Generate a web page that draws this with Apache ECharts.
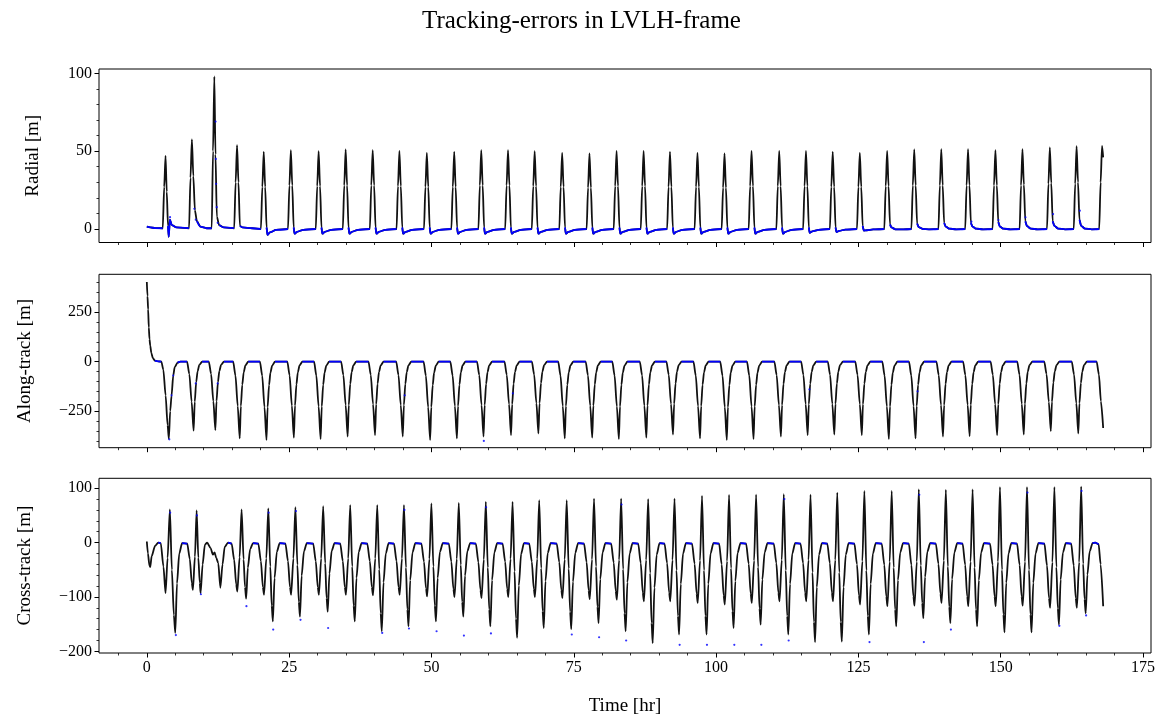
<!DOCTYPE html>
<html>
<head>
<meta charset="utf-8">
<script src="https://cdn.jsdelivr.net/npm/echarts@6/dist/echarts.min.js"></script>
<style>html,body{margin:0;padding:0;background:#fff}#c{width:1163px;height:717px}</style>
</head>
<body>
<div id="c"></div>
<script>
// ---------- tick values ----------
const xMajor = [0,25,50,75,100,125,150,175];
const xMinor = [-5,5,10,15,20,30,35,40,45,55,60,65,70,80,85,90,95,105,110,115,120,130,135,140,145,155,160,165,170];
const radialMajor = [0,50,100];
const radialMinor = [10,20,30,40,60,70,80,90];
const alongMajor = [-250,0,250];
const alongMinor = [-400,-350,-300,-200,-150,-100,-50,50,100,150,200,300,350,400];
const crossMajor = [-200,-100,0,100];
const crossMinor = [-180,-160,-140,-120,-80,-60,-40,-20,20,40,60,80];

// ---------- data: [time (hr), error (m)] ----------
const radialData = [
[0,1.5],[0.6,1],[1.5,0.6],[2.8,0.5],[3.05,27],[3.29,47],[3.5,24],[3.72,2],[3.85,-5],[4.05,6],[4.4,2.5],[5.2,1],
[7.42,0.5],[7.67,33],[7.92,57.5],[8.17,34],[8.45,12],[8.8,5],[9.4,1.5],[10.5,0.5],
[11.4,0.5],[11.63,50],[11.86,98],[12.06,48],[12.3,8],[12.7,2.5],[13.5,1],
[15.35,0.5],[15.6,30],[15.85,53.8],[16.1,30],[16.35,2],[16.8,1],[18.5,0.5],
[20.04,0],[20.29,27],[20.54,49.6],[20.79,27],[21.04,1],[21.19,-3.8],[21.6,-2.2],[22.7,-0.6],
[24.8,0],[25.05,28],[25.3,50.6],[25.55,28],[25.8,1],[25.95,-3],[26.4,-1.8],[27.5,-0.5],
[29.68,0],[29.93,27.5],[30.18,50],[30.43,27.5],[30.68,1],[30.83,-3],[31.28,-1.8],[32.4,-0.5],
[34.43,0],[34.68,28],[34.93,51.1],[35.18,28],[35.43,1],[35.58,-3],[36.03,-1.8],[37.1,-0.5],
[39.18,0],[39.43,28],[39.68,50.6],[39.93,28],[40.18,1],[40.33,-3],[40.78,-1.8],[41.9,-0.5],
[43.87,0],[44.12,27.5],[44.37,50.2],[44.62,27.5],[44.87,1],[45.02,-3],[45.47,-1.8],[46.6,-0.5],
[48.69,0],[48.94,27],[49.19,48.9],[49.44,27],[49.69,1],[49.84,-3],[50.29,-1.8],[51.4,-0.5],
[53.5,0],[53.75,27],[54.0,49.6],[54.25,27],[54.5,1],[54.65,-3],[55.1,-1.8],[56.2,-0.5],
[58.25,0],[58.5,28],[58.75,50.6],[59.0,28],[59.25,1],[59.4,-3],[59.85,-1.8],[61.0,-0.5],
[62.95,0],[63.2,28],[63.45,50.6],[63.7,28],[63.95,1],[64.1,-3],[64.55,-1.8],[65.7,-0.5],
[67.63,0],[67.88,27.5],[68.13,50],[68.38,27.5],[68.63,1],[68.78,-3],[69.23,-1.8],[70.4,-0.5],
[72.46,0],[72.71,27],[72.96,48.9],[73.21,27],[73.46,1],[73.61,-3],[74.06,-1.8],[75.2,-0.5],
[77.26,0],[77.51,26.5],[77.76,48.5],[78.01,26.5],[78.26,1],[78.41,-3],[78.86,-1.8],[80.0,-0.5],
[82.02,0],[82.27,27.5],[82.52,50.2],[82.77,27.5],[83.02,1],[83.17,-3],[83.62,-1.8],[84.8,-0.5],
[86.77,0],[87.02,27.5],[87.27,50.2],[87.52,27.5],[87.77,1],[87.92,-3],[88.37,-1.8],[89.5,-0.5],
[91.4,0],[91.65,27],[91.9,49.6],[92.15,27],[92.4,1],[92.55,-3],[93.0,-1.8],[94.1,-0.5],
[96.23,0],[96.48,27],[96.73,48.9],[96.98,27],[97.23,1],[97.38,-3],[97.83,-1.8],[99.0,-0.5],
[100.98,0],[101.23,26.5],[101.48,48.5],[101.73,26.5],[101.98,1],[102.13,-3],[102.58,-1.8],[103.7,-0.5],
[105.73,0],[105.98,27.5],[106.23,50.2],[106.48,27.5],[106.73,1],[106.88,-3],[107.33,-1.8],[108.5,-0.5],
[110.59,0],[110.84,27.5],[111.09,50.2],[111.34,27.5],[111.59,1],[111.74,-3],[112.19,-1.8],[113.3,-0.5],
[115.29,0],[115.54,27.5],[115.79,50.2],[116.04,27.5],[116.29,1],[116.44,-2.5],[116.89,-1.5],[118.0,-0.5],
[119.99,0],[120.24,27],[120.49,49.6],[120.74,27],[120.99,1],[121.14,-2],[121.6,-1.2],[122.7,-0.4],
[124.75,0],[125.0,27],[125.25,48.9],[125.5,27],[125.75,2],[125.95,-1],[126.5,-0.8],[127.6,-0.3],
[129.55,0],[129.8,27.5],[130.05,50.2],[130.3,27.5],[130.55,3],[130.8,1],[131.5,-0.2],[132.6,-0.3],
[134.31,0],[134.56,28],[134.81,51.1],[135.06,28],[135.31,3.5],[135.6,1.2],[136.3,0],[137.4,-0.2],
[139.06,0],[139.31,28],[139.56,51.3],[139.81,28],[140.06,4],[140.35,1.5],[141.0,0.2],[142.2,-0.2],
[143.76,0],[144.01,28],[144.26,51.3],[144.51,28],[144.76,4],[145.05,1.5],[145.7,0.2],[146.9,-0.2],
[148.57,0],[148.82,28],[149.07,50.6],[149.32,28],[149.57,4.5],[149.86,1.5],[150.5,0.2],[151.7,-0.2],
[153.32,0],[153.57,28],[153.82,51.3],[154.07,28.5],[154.32,5],[154.62,1.8],[155.3,0.2],[156.5,-0.2],
[158.13,0],[158.38,29],[158.63,52.4],[158.88,29.5],[159.13,5],[159.43,2],[160.1,0.3],[161.3,-0.2],
[162.83,0],[163.08,29],[163.33,53.2],[163.58,30],[163.83,6],[164.13,2],[164.8,0.3],[166.0,-0.2],
[167.3,0],[167.55,30],[167.8,53.4],[168.0,46]
];
const radialDots = [[4.08,7.6],[8.35,13],[8.6,6],[12.08,69],[12.12,45],[12.18,29],[12.28,14],[12.45,4],
[144.85,4.7],[149.6,5.8],[154.35,7.5],[159.2,9.6],[163.9,11.8]];

const alongData = [
[0,401],[0.12,330],[0.23,263],[0.35,172],[0.47,113],[0.6,80],[0.8,43],[1.05,18],[1.4,5],[2.0,1],[2.55,0],
[2.9,-40],[3.3,-170],[3.65,-320],[3.87,-390],[4.1,-250],[4.35,-170],[4.64,-70],[4.9,-28],[5.4,-5],[5.9,0],
[7.07,0],[7.47,-63],[7.87,-202],[8.22,-348],[8.42,-202],[8.67,-104],[8.92,-49],[9.22,-17],[9.72,0],
[10.89,0],[11.29,-62],[11.69,-200],[12.04,-345],[12.24,-200],[12.49,-104],[12.74,-48],[13.04,-17],[13.54,0],
[15.17,0],[15.57,-70],[15.97,-224],[16.32,-387],[16.52,-224],[16.77,-116],[17.02,-54],[17.32,-19],[17.82,0],
[19.87,0],[20.27,-71],[20.67,-229],[21.02,-395],[21.22,-229],[21.47,-119],[21.72,-55],[22.02,-20],[22.52,0],
[24.68,0],[25.08,-69],[25.48,-222],[25.83,-383],[26.03,-222],[26.28,-115],[26.53,-54],[26.83,-19],[27.33,0],
[29.38,0],[29.78,-70],[30.18,-226],[30.53,-390],[30.73,-226],[30.98,-117],[31.23,-55],[31.53,-20],[32.03,0],
[34.13,0],[34.53,-68],[34.93,-219],[35.28,-378],[35.48,-219],[35.73,-113],[35.98,-53],[36.28,-19],[36.78,0],
[38.94,0],[39.34,-67],[39.74,-215],[40.09,-370],[40.29,-215],[40.54,-111],[40.79,-52],[41.09,-19],[41.59,0],
[43.81,0],[44.21,-68],[44.61,-219],[44.96,-378],[45.16,-219],[45.41,-113],[45.66,-53],[45.96,-19],[46.46,0],
[48.62,0],[49.02,-71],[49.42,-229],[49.77,-395],[49.97,-229],[50.22,-119],[50.47,-55],[50.77,-20],[51.27,0],
[53.32,0],[53.72,-70],[54.12,-224],[54.47,-387],[54.67,-224],[54.92,-116],[55.17,-54],[55.47,-19],[55.97,0],
[58.0,0],[58.4,-68],[58.8,-219],[59.15,-378],[59.35,-219],[59.6,-113],[59.85,-53],[60.15,-19],[60.65,0],
[62.83,0],[63.23,-67],[63.63,-215],[63.98,-370],[64.18,-215],[64.43,-111],[64.68,-52],[64.98,-19],[65.48,0],
[67.64,0],[68.04,-65],[68.44,-210],[68.79,-362],[68.99,-210],[69.24,-109],[69.49,-51],[69.79,-18],[70.29,0],
[72.27,0],[72.67,-70],[73.07,-224],[73.42,-387],[73.62,-224],[73.87,-116],[74.12,-54],[74.42,-19],[74.92,0],
[77.09,0],[77.49,-69],[77.89,-222],[78.24,-383],[78.44,-222],[78.69,-115],[78.94,-54],[79.24,-19],[79.74,0],
[81.77,0],[82.17,-70],[82.57,-226],[82.92,-390],[83.12,-226],[83.37,-117],[83.62,-55],[83.92,-20],[84.42,0],
[86.6,0],[87.0,-69],[87.4,-222],[87.75,-383],[87.95,-222],[88.2,-115],[88.45,-54],[88.75,-19],[89.25,0],
[91.28,0],[91.68,-66],[92.08,-213],[92.43,-367],[92.63,-213],[92.88,-110],[93.13,-51],[93.43,-18],[93.93,0],
[96.03,0],[96.43,-70],[96.83,-224],[97.18,-387],[97.38,-224],[97.63,-116],[97.88,-54],[98.18,-19],[98.68,0],
[100.73,0],[101.13,-71],[101.53,-229],[101.88,-395],[102.08,-229],[102.33,-119],[102.58,-55],[102.88,-20],[103.38,0],
[105.43,0],[105.83,-70],[106.23,-226],[106.58,-390],[106.78,-226],[107.03,-117],[107.28,-55],[107.58,-20],[108.08,0],
[110.24,0],[110.64,-68],[111.04,-219],[111.39,-378],[111.59,-219],[111.84,-113],[112.09,-53],[112.39,-19],[112.89,0],
[114.94,0],[115.34,-67],[115.74,-215],[116.09,-370],[116.29,-215],[116.54,-111],[116.79,-52],[117.09,-19],[117.59,0],
[119.62,0],[120.02,-66],[120.42,-213],[120.77,-367],[120.97,-213],[121.22,-110],[121.47,-51],[121.77,-18],[122.27,0],
[124.45,0],[124.85,-67],[125.25,-215],[125.6,-370],[125.8,-215],[126.05,-111],[126.3,-52],[126.6,-19],[127.1,0],
[129.2,0],[129.6,-70],[130.0,-226],[130.35,-390],[130.55,-226],[130.8,-117],[131.05,-55],[131.35,-20],[131.85,0],
[133.89,0],[134.29,-70],[134.69,-224],[135.04,-387],[135.24,-224],[135.49,-116],[135.74,-54],[136.04,-19],[136.54,0],
[138.71,0],[139.11,-68],[139.51,-219],[139.86,-378],[140.06,-219],[140.31,-113],[140.56,-53],[140.86,-19],[141.36,0],
[143.39,0],[143.79,-68],[144.19,-218],[144.54,-375],[144.74,-218],[144.99,-113],[145.24,-53],[145.54,-19],[146.04,0],
[148.22,0],[148.62,-67],[149.02,-215],[149.37,-370],[149.57,-215],[149.82,-111],[150.07,-52],[150.37,-19],[150.87,0],
[152.9,0],[153.3,-66],[153.7,-213],[154.05,-367],[154.25,-213],[154.5,-110],[154.75,-51],[155.05,-18],[155.55,0],
[157.65,0],[158.05,-63],[158.45,-203],[158.8,-350],[159.0,-203],[159.25,-105],[159.5,-49],[159.8,-18],[160.3,0],
[162.48,0],[162.88,-65],[163.28,-210],[163.63,-362],[163.83,-210],[164.08,-109],[164.33,-51],[164.63,-18],[165.13,0],
[166.85,0],[167.25,-65],[167.6,-200],[168.0,-335]
];
const alongDots = [[3.95,-392],[4.35,-170],[4.64,-70],[59.2,-400],[8.6,-110],[12.45,-110],[45.3,-170],[64.3,-160],[116.4,-140],[135.4,-150]];

const crossData = [
[0,2],[0.2,-20],[0.45,-42],[0.6,-45],[0.85,-25],[1.45,-6],[2.0,0],[2.45,-1],[2.92,-44],[3.29,-93],[3.65,-28],[4.05,61],[4.4,-50],[4.75,-133],[5.0,-166],[5.3,-75],[5.7,-20],[6.2,-1],
[7.1,-2],[7.55,-30],[7.9,-74],[8.1,-87],[8.45,-26],[8.75,59],[9.05,-28],[9.3,-74],[9.45,-93],[9.8,-40],[10.2,-4],[10.6,0],
[11.2,-10],[11.6,-22],[11.9,-18],[12.2,-28],[12.55,-38],[12.92,-83],[13.3,-40],[13.68,-8],[14.27,0],
[14.9,-2],[15.35,-32],[15.7,-77],[15.9,-90],[16.3,-27],[16.65,61],[17.0,-31],[17.25,-82],[17.45,-103],[17.75,-46],[18.15,-12],[18.65,-1],
[19.59,-2],[20.04,-34],[20.39,-82],[20.59,-96],[20.99,-29],[21.34,63],[21.69,-44],[21.94,-116],[22.14,-145],[22.44,-65],[22.84,-17],[23.34,-1],
[24.35,-2],[24.8,-34],[25.15,-82],[25.35,-96],[25.75,-29],[26.1,65],[26.45,-41],[26.7,-109],[26.9,-136],[27.2,-61],[27.6,-16],[28.1,-1],
[29.23,-2],[29.68,-34],[30.03,-82],[30.23,-96],[30.63,-29],[30.98,67],[31.33,-38],[31.58,-102],[31.78,-127],[32.08,-57],[32.48,-15],[32.98,-1],
[33.98,-2],[34.43,-34],[34.78,-82],[34.98,-96],[35.38,-29],[35.73,69],[36.08,-44],[36.33,-116],[36.53,-145],[36.83,-65],[37.23,-17],[37.73,-1],
[38.73,-2],[39.18,-34],[39.53,-82],[39.73,-97],[40.13,-29],[40.48,69],[40.83,-49],[41.08,-130],[41.28,-163],[41.58,-73],[41.98,-20],[42.48,-1],
[43.42,-2],[43.87,-34],[44.22,-82],[44.42,-96],[44.82,-29],[45.17,69],[45.52,-46],[45.77,-123],[45.97,-154],[46.27,-69],[46.67,-18],[47.17,-1],
[48.24,-2],[48.69,-35],[49.04,-84],[49.24,-99],[49.64,-30],[49.99,72],[50.34,-44],[50.59,-116],[50.79,-145],[51.09,-65],[51.49,-17],[51.99,-1],
[53.05,-2],[53.5,-35],[53.85,-85],[54.05,-100],[54.45,-30],[54.8,73],[55.15,-41],[55.4,-109],[55.6,-136],[55.9,-61],[56.3,-16],[56.8,-1],
[57.8,-2],[58.25,-36],[58.6,-87],[58.8,-102],[59.2,-31],[59.55,75],[59.9,-46],[60.15,-123],[60.35,-154],[60.65,-69],[61.05,-18],[61.55,-1],
[62.5,-2],[62.95,-35],[63.3,-85],[63.5,-100],[63.9,-30],[64.25,75],[64.6,-53],[64.85,-140],[65.05,-175],[65.35,-79],[65.75,-21],[66.25,-1],
[67.18,-2],[67.63,-35],[67.98,-85],[68.18,-100],[68.58,-30],[68.93,78],[69.28,-47],[69.53,-126],[69.73,-157],[70.03,-71],[70.43,-19],[70.93,-1],
[72.01,-2],[72.46,-36],[72.81,-87],[73.01,-102],[73.41,-31],[73.76,78],[74.11,-48],[74.36,-127],[74.56,-159],[74.86,-72],[75.26,-19],[75.76,-1],
[76.81,-2],[77.26,-36],[77.61,-88],[77.81,-104],[78.21,-31],[78.56,81],[78.91,-44],[79.16,-118],[79.36,-148],[79.66,-67],[80.06,-18],[80.56,-1],
[81.57,-2],[82.02,-37],[82.37,-89],[82.57,-105],[82.97,-32],[83.32,81],[83.67,-49],[83.92,-130],[84.12,-163],[84.42,-73],[84.82,-20],[85.32,-1],
[86.32,-2],[86.77,-38],[87.12,-92],[87.32,-108],[87.72,-32],[88.07,80],[88.42,-56],[88.67,-148],[88.87,-185],[89.17,-83],[89.57,-22],[90.07,-1],
[90.95,-2],[91.4,-38],[91.75,-92],[91.95,-108],[92.35,-32],[92.7,81],[93.05,-51],[93.3,-135],[93.5,-169],[93.8,-76],[94.2,-20],[94.7,-1],
[95.78,-2],[96.23,-39],[96.58,-94],[96.78,-111],[97.18,-33],[97.53,86],[97.88,-51],[98.13,-135],[98.33,-169],[98.63,-76],[99.03,-20],[99.53,-1],
[100.53,-2],[100.98,-40],[101.33,-97],[101.53,-114],[101.93,-34],[102.28,87.5],[102.63,-47],[102.88,-126],[103.08,-157],[103.38,-71],[103.78,-19],[104.28,-1],
[105.28,-2],[105.73,-39],[106.08,-94],[106.28,-111],[106.68,-33],[107.03,88],[107.38,-45],[107.63,-121],[107.83,-151],[108.13,-68],[108.53,-18],[109.03,-1],
[110.14,-2],[110.59,-38],[110.94,-92],[111.14,-108],[111.54,-32],[111.89,89],[112.24,-51],[112.49,-135],[112.69,-169],[112.99,-76],[113.39,-20],[113.89,-1],
[114.84,-2],[115.29,-38],[115.64,-92],[115.84,-108],[116.24,-32],[116.59,88],[116.94,-55],[117.19,-146],[117.39,-183],[117.69,-82],[118.09,-22],[118.59,-1],
[119.54,-2],[119.99,-38],[120.34,-92],[120.54,-108],[120.94,-32],[121.29,92],[121.64,-55],[121.89,-146],[122.09,-182],[122.39,-82],[122.79,-22],[123.29,-1],
[124.3,-2],[124.75,-40],[125.1,-97],[125.3,-114],[125.7,-34],[126.05,95],[126.4,-51],[126.65,-135],[126.85,-169],[127.15,-76],[127.55,-20],[128.05,-1],
[129.1,-2],[129.55,-41],[129.9,-99],[130.1,-117],[130.5,-35],[130.85,95],[131.2,-46],[131.45,-123],[131.65,-154],[131.95,-69],[132.35,-18],[132.85,-1],
[133.86,-2],[134.31,-41],[134.66,-99],[134.86,-116],[135.26,-35],[135.61,98],[135.96,-42],[136.21,-111],[136.41,-139],[136.71,-63],[137.11,-17],[137.61,-1],
[138.61,-2],[139.06,-39],[139.41,-94],[139.61,-111],[140.01,-33],[140.36,97],[140.71,-44],[140.96,-118],[141.16,-148],[141.46,-67],[141.86,-18],[142.36,-1],
[143.31,-2],[143.76,-41],[144.11,-99],[144.31,-117],[144.71,-35],[145.06,98],[145.41,-46],[145.66,-123],[145.86,-154],[146.16,-69],[146.56,-18],[147.06,-1],
[148.12,-2],[148.57,-41],[148.92,-99],[149.12,-117],[149.52,-35],[149.87,102],[150.22,-50],[150.47,-132],[150.67,-165],[150.97,-74],[151.37,-20],[151.87,-1],
[152.87,-2],[153.32,-41],[153.67,-99],[153.87,-116],[154.27,-35],[154.62,102],[154.97,-50],[155.22,-132],[155.42,-165],[155.72,-74],[156.12,-20],[156.62,-1],
[157.68,-2],[158.13,-42],[158.48,-102],[158.68,-120],[159.08,-36],[159.43,102],[159.78,-45],[160.03,-121],[160.23,-151],[160.53,-68],[160.93,-18],[161.43,-1],
[162.38,-2],[162.83,-42],[163.18,-102],[163.38,-120],[163.78,-36],[164.13,103],[164.48,-39],[164.73,-104],[164.93,-130],[165.23,-59],[165.63,-16],[166.13,-1],
[166.6,0],[167.2,-3],[167.55,-40],[168.0,-117]
];
const crossDots = [[5.1,-170],[9.5,-95],[17.5,-117],[22.2,-160],[27.0,-142],[31.85,-157],[41.35,-166],[46.05,-158],
[50.9,-163],[55.7,-171],[60.45,-167],[74.65,-169],[79.45,-174],[84.2,-180],[93.6,-188],[98.4,-188],[103.2,-188],
[107.95,-188],[112.75,-180],[126.95,-183],[136.5,-183],[141.25,-160],[160.3,-153],[165.0,-134],
[4.1,55],[8.8,50],[21.4,55],[26.2,58],[45.25,60],[59.6,65],[83.4,70],[112.0,80],[135.7,88],[154.7,92],[164.2,95]];

// ---------- chart ----------
const FONT = 'Liberation Serif';
const X_MIN = -8.4, X_MAX = 176.4;
const grids = [
  {left: 99, top: 69, width: 1052, height: 173.5},
  {left: 99, top: 274.3, width: 1052, height: 173.4},
  {left: 99, top: 478.3, width: 1052, height: 175}
];
const yRanges = [[-8.67, 102.8], [-434, 440], [-203, 118.2]];
const yMaj = [radialMajor, alongMajor, crossMajor];
const yMin = [radialMinor, alongMinor, crossMinor];
const yNames = ['Radial [m]', 'Along-track [m]', 'Cross-track [m]'];
const yNameGap = [56, 64, 64];
const fmt = v => v < 0 ? '\u2212' + Math.abs(v) : String(v);

const xAxis = [], yAxis = [];
for (let i = 0; i < 3; i++) {
  xAxis.push({
    type: 'value', gridIndex: i, min: X_MIN, max: X_MAX, position: 'bottom',
    axisLine: {show: false, onZero: false}, splitLine: {show: false},
    axisTick: {show: true, length: 4.5, customValues: xMajor, lineStyle: {color: '#000', width: 1}},
    axisLabel: {show: i === 2, customValues: xMajor, margin: 7, color: '#000', fontFamily: FONT, fontSize: 16},
    name: i === 2 ? 'Time [hr]' : '', nameLocation: 'middle', nameGap: 44,
    nameTextStyle: {fontFamily: FONT, fontSize: 19, color: '#000'}
  });
  yAxis.push({
    type: 'value', gridIndex: i, min: yRanges[i][0], max: yRanges[i][1], position: 'left',
    axisLine: {show: false, onZero: false}, splitLine: {show: false},
    axisTick: {show: true, length: 4.5, customValues: yMaj[i], lineStyle: {color: '#000', width: 1}},
    axisLabel: {show: true, customValues: yMaj[i], margin: 7, color: '#000', fontFamily: FONT, fontSize: 16, formatter: fmt},
    name: yNames[i], nameLocation: 'middle', nameGap: yNameGap[i], nameRotate: 90,
    nameTextStyle: {fontFamily: FONT, fontSize: 19, color: '#000'}
  });
}
for (let i = 0; i < 3; i++) {
  xAxis.push({
    type: 'value', gridIndex: i, min: X_MIN, max: X_MAX, position: 'bottom',
    axisLine: {show: false, onZero: false}, splitLine: {show: false}, axisLabel: {show: false},
    axisTick: {show: true, length: 2.5, customValues: xMinor, lineStyle: {color: '#000', width: 0.8}}
  });
  yAxis.push({
    type: 'value', gridIndex: i, min: yRanges[i][0], max: yRanges[i][1], position: 'left',
    axisLine: {show: false, onZero: false}, splitLine: {show: false}, axisLabel: {show: false},
    axisTick: {show: true, length: 2.5, customValues: yMin[i], lineStyle: {color: '#000', width: 0.8}}
  });
}

// blue measurement trace on the quiet (flat) parts of each curve
const quiet = (data, lo, hi) => data.map(p => (p[1] >= lo && p[1] <= hi) ? p : [p[0], '-']);
const lineSets = [
  [radialData, quiet(radialData, -6, 6), radialDots],
  [alongData, quiet(alongData, -6, 6), alongDots],
  [crossData, quiet(crossData, -3, 3), crossDots]
];
const series = [];
lineSets.forEach((s, i) => {
  series.push({type: 'line', xAxisIndex: i, yAxisIndex: i, data: s[0], showSymbol: false, symbol: 'none',
    smooth: 0.25, smoothMonotone: 'x',
    lineStyle: {color: '#111', width: 1.8}, z: 2, silent: true});
  series.push({type: 'line', xAxisIndex: i, yAxisIndex: i, data: s[1], showSymbol: false, symbol: 'none', connectNulls: false,
    smooth: 0.25, smoothMonotone: 'x',
    lineStyle: {color: '#0000ff', width: 1.8}, z: 3, silent: true});
  series.push({type: 'scatter', xAxisIndex: i, yAxisIndex: i, data: s[2], symbolSize: 2.2,
    itemStyle: {color: '#0000ff'}, z: 4, silent: true});
});

const chart = echarts.init(document.getElementById('c'), null, {renderer: 'canvas'});
chart.setOption({
  animation: false,
  backgroundColor: '#fff',
  title: {text: 'Tracking-errors in LVLH-frame', left: 'center', top: 4,
    textStyle: {fontFamily: FONT, fontSize: 25, fontWeight: 'normal', color: '#000'}},
  grid: grids.map(g => Object.assign({show: true, borderColor: '#000', borderWidth: 1, backgroundColor: 'transparent'}, g)),
  xAxis: xAxis, yAxis: yAxis, series: series
});
</script>
</body>
</html>
